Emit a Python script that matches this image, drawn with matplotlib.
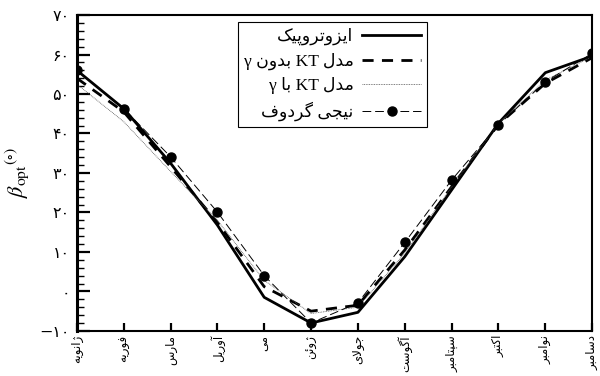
import matplotlib
matplotlib.use('Agg')
import matplotlib.pyplot as plt
from matplotlib.ticker import MultipleLocator

plt.rcParams['font.family'] = ['Liberation Serif', 'DejaVu Sans']
plt.rcParams['mathtext.fontset'] = 'stix'

# months (Persian), Jan..Dec
months = ['ژانویه', 'فوریه', 'مارس', 'آوریل', 'می', 'ژوئن',
          'جولای', 'آگوست', 'سپتامبر', 'اکتبر', 'نوامبر', 'دسامبر']
month_no = list(range(1, 13))

# optimum tilt angle (deg)
isotropic = [56.0, 46.3, 32.5, 16.8, -1.5, -8.0, -5.3, 8.8, 25.7, 42.6, 55.4, 59.6]
kt_no_gamma = [54.0, 45.5, 31.6, 17.5, 1.2, -5.0, -3.5, 10.5, 26.5, 42.3, 52.7, 59.2]
kt_gamma = [52.5, 43.0, 30.4, 18.0, 2.8, -5.6, -4.0, 9.7, 26.5, 42.5, 53.5, 59.5]
nijegorodov = [56.0, 46.3, 34.1, 20.1, 4.0, -8.0, -2.9, 12.4, 28.2, 42.2, 53.1, 60.3]

legend_labels = ['ایزوتروپیک', 'مدل KT بدون γ', 'مدل KT با γ', 'نیجی گردوف']

ytick_vals = [-10, 0, 10, 20, 30, 40, 50, 60, 70]
ytick_labels = ['−۱۰', '۰', '۱۰', '۲۰', '۳۰', '۴۰', '۵۰', '۶۰', '۷۰']

# --- tiny Persian shaper (matplotlib has no bidi / joining) ---
# letter: (isolated, final, initial, medial)
FORMS = {
    'ا': ('\uFE8D', '\uFE8E', None, None),
    'آ': ('\uFE81', '\uFE82', None, None),
    'ئ': ('\uFE89', '\uFE8A', '\uFE8B', '\uFE8C'),
    'ب': ('\uFE8F', '\uFE90', '\uFE91', '\uFE92'),
    'ت': ('\uFE95', '\uFE96', '\uFE97', '\uFE98'),
    'ج': ('\uFE9D', '\uFE9E', '\uFE9F', '\uFEA0'),
    'د': ('\uFEA9', '\uFEAA', None, None),
    'ر': ('\uFEAD', '\uFEAE', None, None),
    'ز': ('\uFEAF', '\uFEB0', None, None),
    'س': ('\uFEB1', '\uFEB2', '\uFEB3', '\uFEB4'),
    'ف': ('\uFED1', '\uFED2', '\uFED3', '\uFED4'),
    'ل': ('\uFEDD', '\uFEDE', '\uFEDF', '\uFEE0'),
    'م': ('\uFEE1', '\uFEE2', '\uFEE3', '\uFEE4'),
    'ن': ('\uFEE5', '\uFEE6', '\uFEE7', '\uFEE8'),
    'ه': ('\uFEE9', '\uFEEA', '\uFEEB', '\uFEEC'),
    'و': ('\uFEED', '\uFEEE', None, None),
    'پ': ('\uFB56', '\uFB57', '\uFB58', '\uFB59'),
    'ژ': ('\uFB8A', '\uFB8B', None, None),
    'ک': ('\uFB8E', '\uFB8F', '\uFB90', '\uFB91'),
    'گ': ('\uFB92', '\uFB93', '\uFB94', '\uFB95'),
    'ی': ('\uFBFC', '\uFBFD', '\uFBFE', '\uFBFF'),
}
LAM_ALEF = {'ا': ('\uFEFB', '\uFEFC'), 'آ': ('\uFEF5', '\uFEF6')}


def joins_fwd(c):
    return c in FORMS and FORMS[c][2] is not None


def shape(word):
    s = word.replace('\u064A', 'ی').replace('\u0643', 'ک')
    res = []
    i = 0
    while i < len(s):
        c = s[i]
        link_prev = i > 0 and joins_fwd(s[i - 1])
        if c == 'ل' and i + 1 < len(s) and s[i + 1] in LAM_ALEF:
            lig = LAM_ALEF[s[i + 1]]
            res.append(lig[1] if link_prev else lig[0])
            i += 2
            continue
        if c not in FORMS:
            res.append(c)
            i += 1
            continue
        link_next = joins_fwd(c) and i + 1 < len(s) and s[i + 1] in FORMS
        iso, fin, ini, med = FORMS[c]
        if link_prev and link_next:
            g = med
        elif link_prev:
            g = fin
        elif link_next:
            g = ini
        else:
            g = iso
        res.append(g)
        i += 1
    return ''.join(reversed(res))


def fa(text):
    words = text.split(' ')
    vis = [shape(w) if any(ch in FORMS or ch in '\u064A\u0643' for ch in w) else w
           for w in words]
    return ' '.join(reversed(vis))


fig = plt.figure(figsize=(6, 3.76), dpi=100)
ax = fig.add_subplot(111)
fig.subplots_adjust(left=0.128, right=0.987, bottom=0.120, top=0.960)

ax.plot(month_no, isotropic, color='k', lw=2.0, label=fa(legend_labels[0]))
ax.plot(month_no, kt_no_gamma, color='k', lw=2.0, ls=(0, (4, 3)),
        label=fa(legend_labels[1]))
ax.plot(month_no, kt_gamma, color='#555555', lw=0.6, ls=(0, (1, 1)),
        label=fa(legend_labels[2]))
ax.plot(month_no, nijegorodov, color='k', lw=0.7, ls=(0, (9, 4)),
        marker='o', ms=6.5, mfc='k', mec='k', label=fa(legend_labels[3]))

ax.set_xlim(1, 12)
ax.set_ylim(-10, 70)
ax.set_xticks(month_no)
ax.set_xticklabels([fa(m) for m in months], rotation=90, family='DejaVu Sans',
                   fontsize=8.5)
ax.set_yticks(ytick_vals)
ax.set_yticklabels(ytick_labels, family='DejaVu Sans', fontsize=11.5)
ax.yaxis.set_minor_locator(MultipleLocator(2))

ax.tick_params(axis='both', which='both', direction='in', top=False, right=False)
ax.tick_params(axis='y', which='major', length=9, width=1.6, pad=5)
ax.tick_params(axis='y', which='minor', length=5, width=1.0)
ax.tick_params(axis='x', which='major', length=6, width=1.6, pad=3)
ax.tick_params(axis='x', which='minor', bottom=False)

for side in ['top', 'right', 'bottom']:
    ax.spines[side].set_linewidth(1.5)
ax.spines['left'].set_linewidth(2.2)

ax.set_ylabel(r'$\beta_{\rm opt}$$^{(\circ)}$', fontsize=16, labelpad=6)

leg = ax.legend(loc='upper center', bbox_to_anchor=(0.496, 0.978),
                markerfirst=False, fancybox=False, framealpha=1,
                edgecolor='k', fontsize=12.5, handlelength=3.4,
                labelspacing=0.42, borderpad=0.35, handletextpad=0.5,
                borderaxespad=0)
leg.get_frame().set_linewidth(0.8)

fig.savefig('out.png', dpi=100)
